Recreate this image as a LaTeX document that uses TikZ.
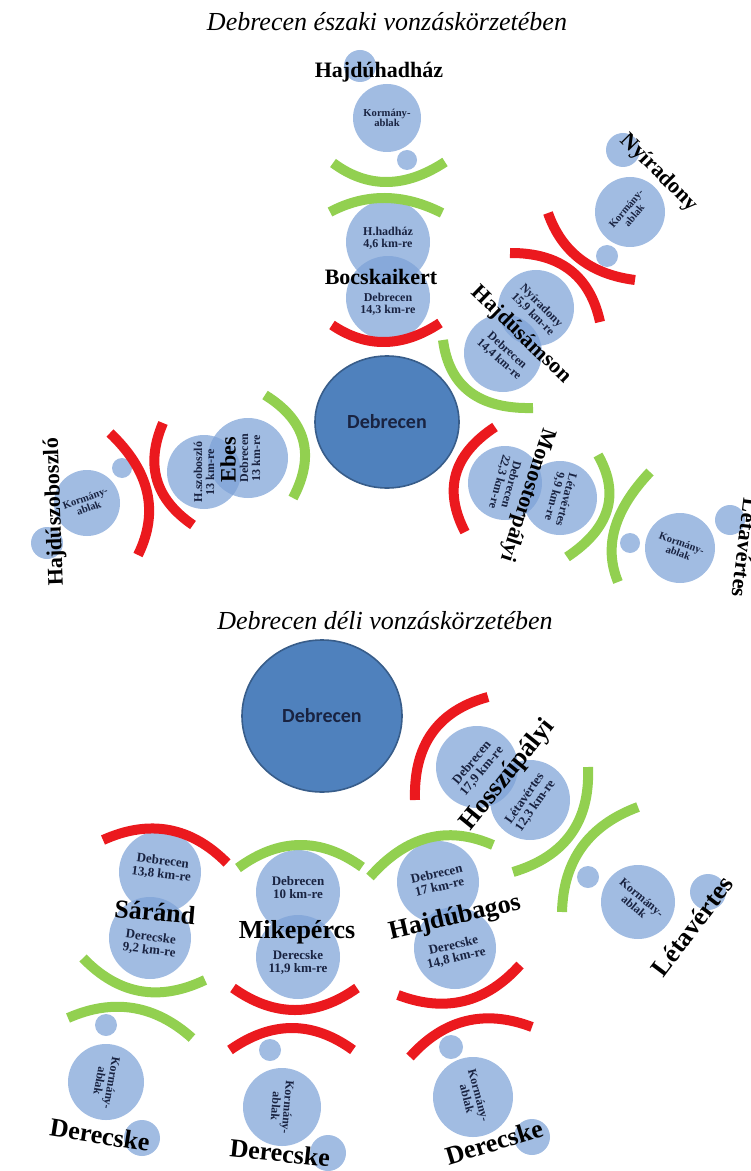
\documentclass[tikz,border=0pt]{standalone}
\usepackage{fontspec}
\setmainfont{Liberation Serif}
\newfontfamily\debfont{Carlito}
\usetikzlibrary{calc}

\definecolor{bubblecol}{RGB}{125,162,215}
\definecolor{debfill}{RGB}{79,129,189}
\definecolor{debline}{RGB}{56,93,138}
\definecolor{navytext}{RGB}{25,35,65}
\definecolor{bandred}{RGB}{235,25,30}
\definecolor{bandgreen}{RGB}{146,208,80}

% band from #2 through #3 to #4
\newcommand\band[4]{\draw[#1] (#2) .. controls ($1.3333*(#3)-0.3333*(#4)$) and ($1.3333*(#3)-0.3333*(#2)$) .. (#4);}

\begin{document}
\begin{tikzpicture}[x=0.5pt, y=-0.5pt,
    bubble/.style={fill=bubblecol, fill opacity=0.72},
    redband/.style={draw=bandred, line width=5pt},
    greenband/.style={draw=bandgreen, line width=5pt},
    center/.style={font=\debfont\bfseries\fontsize{10}{11}\selectfont, text=navytext},
    heading/.style={font=\itshape\fontsize{13}{14}\selectfont},
    town/.style={font=\bfseries\fontsize{11}{12}\selectfont, inner sep=0pt},
    townl/.style={font=\bfseries\fontsize{13}{14}\selectfont, inner sep=0pt},
    dist/.style={font=\bfseries\fontsize{6}{6}\selectfont, text=navytext, align=center, inner sep=0pt},
    distl/.style={font=\bfseries\fontsize{6.5}{6.5}\selectfont, text=navytext, align=center, inner sep=0pt},
    office/.style={font=\bfseries\fontsize{5.3}{5.3}\selectfont, text=navytext, align=center, inner sep=0pt},
    officel/.style={font=\bfseries\fontsize{6}{6}\selectfont, text=navytext, align=center, inner sep=0pt}]
\useasboundingbox (0,0) rectangle (750,1171);

% headings
\node[heading] (title-n) at (387,22) {Debrecen északi vonzáskörzetében};
\node[heading] (title-s) at (385,621) {Debrecen déli vonzáskörzetében};

% Debrecen
\filldraw[fill=debfill, draw=debline, line width=0.8pt] (387,422) ellipse[x radius=72, y radius=66];
\filldraw[fill=debfill, draw=debline, line width=0.8pt] (322,716) ellipse[x radius=80, y radius=76];
\node[center] (deb-n) at (387,422) {Debrecen};
\node[center] (deb-s) at (322,716) {Debrecen};

% bubbles, north part
\foreach \x/\y/\r in {360/66/16, 387/118/34, 407/160/10, 388/242/42, 388/298/42,
    623/150/17, 630/212/35, 607/256/11, 536/308/38, 503/353/39,
    248/458/40, 204/472/37, 122/468/10, 87/503/33, 47/543/16,
    505/483/37, 560/498/37, 630/543/10, 680/548/35, 730/520/15}
  \fill[bubble] (\x,\y) circle[radius=\r];

% bubbles, south part
\foreach \x/\y/\r in {477/767/41, 530/800/40, 588/877/11, 638/902/37, 708/892/18,
    438/882/41, 455/948/41, 451/1047/12, 473/1097/40, 532/1137/18,
    298/892/42, 298/957/42, 270/1050/11, 282/1107/39, 328/1153/18,
    160/872/41, 150/938/41, 106/1025/11, 106/1082/38, 142/1138/18}
  \fill[bubble] (\x,\y) circle[radius=\r];

% bands, north part
\band{greenband}{333,163}{387,182}{445,162}
\band{greenband}{330,212}{385,198}{442,213}
\band{redband}{332,325}{385,342}{440,323}
\band{redband}{548,213}{580,259}{635,280}
\band{redband}{510,253}{570,270}{600,322}
\band{greenband}{443,340}{470,392}{533,408}
\band{greenband}{265,395}{303,440}{293,498}
\band{redband}{163,423}{157,480}{193,525}
\band{redband}{110,433}{147,492}{138,555}
\band{redband}{495,427}{456,474}{465,532}
\band{greenband}{598,455}{607,510}{567,557}
\band{greenband}{650,472}{615,528}{618,582}

% bands, south part
\band{redband}{488,697}{432,733}{415,800}
\band{greenband}{588,767}{571,834}{513,872}
\band{greenband}{638,807}{582,847}{562,912}
\band{greenband}{370,877}{428,838}{493,845}
\band{redband}{398,995}{464,1001}{520,965}
\band{redband}{410,1057}{466,1021}{532,1027}
\band{greenband}{238,868}{300,845}{362,867}
\band{redband}{233,988}{295,1010}{357,988}
\band{redband}{230,1050}{292,1028}{353,1050}
\band{redband}{103,840}{169,830}{227,863}
\band{greenband}{83,958}{140,991}{205,980}
\band{greenband}{68,1018}{133,1008}{192,1038}

% north
\node[office] (hhaz-office) at (387,118) {Kormány-\\ablak};
\node[dist] (hhaz-dist) at (388,238) {H.hadház\\4,6 km-re};
\node[dist] (bocs-dist) at (388,304) {Debrecen\\14,3 km-re};
\node[town] (hhaz) at (379,72) {Hajdúhadház};
\node[town] (bocs) at (381,277) {Bocskaikert};

% north-east
\node[office, rotate=50] (nyir-office) at (630,212) {Kormány-\\ablak};
\node[dist, rotate=-45] (nyir-dist) at (537,310) {Nyíradony\\15,9 km-re};
\node[dist, rotate=-42] (sam-dist) at (503,355) {Debrecen\\14,4 km-re};
\node[town, rotate=-45] (nyir) at (659,173) {Nyíradony};
\node[town, rotate=-44] (sam) at (521,335) {Hajdúsámson};

% west
\node[office, rotate=20] (szob-office) at (87,503) {Kormány-\\ablak};
\node[dist, rotate=90] (szob-dist) at (204,472) {H.szoboszló\\13 km-re};
\node[dist, rotate=90] (ebes-dist) at (250,458) {Debrecen\\13 km-re};
\node[town, rotate=92] (szob) at (55,512) {Hajdúszoboszló};
\node[town, rotate=90] (ebes) at (228,460) {Ebes};

% south-east
\node[dist, rotate=-105] (mono-dist) at (505,483) {Debrecen\\22,3 km-re};
\node[dist, rotate=-105] (mono-dist2) at (560,498) {Létavértes\\9,9 km-re};
\node[office, rotate=-20] (leta1-office) at (680,548) {Kormány-\\ablak};
\node[town, rotate=-108] (mono) at (527,495) {Monostorpályi};
\node[town, rotate=-97] (leta1) at (745,548) {Létavértes};

% Hosszúpályi
\node[distl, rotate=50] (hossz-dist) at (477,767) {Debrecen\\17,9 km-re};
\node[distl, rotate=55] (hossz-dist2) at (530,802) {Létavértes\\12,3 km-re};
\node[officel, rotate=-40] (leta2-office) at (638,902) {Kormány-\\ablak};
\node[townl, rotate=51] (hossz) at (508,775) {Hosszúpályi};
\node[townl, rotate=53] (leta2) at (692,926) {Létavértes};

% Hajdúbagos
\node[distl, rotate=13] (bagos-dist) at (438,880) {Debrecen\\17 km-re};
\node[distl, rotate=13] (bagos-dist2) at (455,952) {Derecske\\14,8 km-re};
\node[officel, rotate=-75] (dere3-office) at (473,1097) {Kormány-\\ablak};
\node[townl, rotate=13] (bagos) at (455,918) {Hajdúbagos};
\node[townl, rotate=17] (dere3) at (494,1142) {Derecske};

% Mikepércs
\node[distl] (mike-dist) at (298,888) {Debrecen\\10 km-re};
\node[distl] (mike-dist2) at (298,962) {Derecske\\11,9 km-re};
\node[officel, rotate=-95] (dere2-office) at (282,1107) {Kormány-\\ablak};
\node[townl] (mike) at (297,932) {Mikepércs};
\node[townl, rotate=-6] (dere2) at (280,1153) {Derecske};

% Sáránd
\node[distl, rotate=-7] (sar-dist) at (162,868) {Debrecen\\13,8 km-re};
\node[distl, rotate=-7] (sar-dist2) at (150,944) {Derecske\\9,2 km-re};
\node[officel, rotate=-100] (dere1-office) at (106,1082) {Kormány-\\ablak};
\node[townl, rotate=-5] (sar) at (155,912) {Sáránd};
\node[townl, rotate=-9] (dere1) at (100,1135) {Derecske};
\end{tikzpicture}
\end{document}
